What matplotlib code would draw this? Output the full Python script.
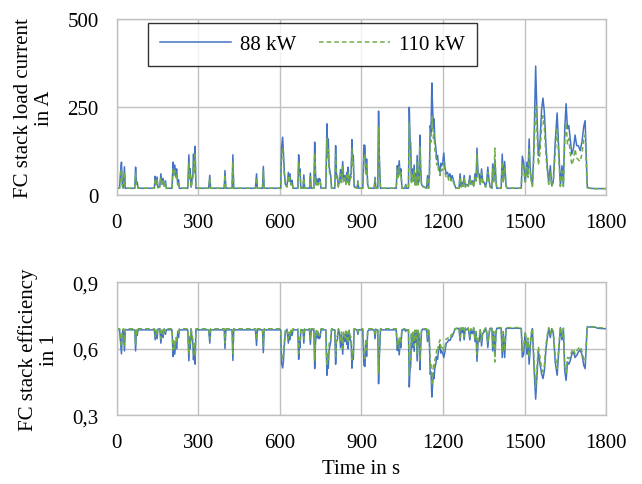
import matplotlib
matplotlib.use("Agg")
import matplotlib.pyplot as plt
from matplotlib.ticker import FuncFormatter, MultipleLocator
from typing import Tuple

plt.rcParams["font.family"] = ["Liberation Serif", "DejaVu Serif"]
plt.rcParams["font.size"] = 15

# values (time in s)
time_s = [
    0, 10, 13, 17, 20, 24, 26, 28, 31, 66, 69, 72, 75, 78, 138, 141, 144, 148,
    151, 158, 162, 166, 170, 174, 179, 182, 203, 207, 210, 213, 217, 220, 224,
    227, 230, 261, 265, 268, 270, 273, 280, 282, 285, 288, 291, 338, 342, 345,
    395, 398, 401, 424, 427, 430, 510, 514, 517, 536, 539, 542, 603, 606, 610,
    613, 616, 620, 626, 631, 634, 637, 641, 645, 648, 666, 669, 672, 674, 677,
    685, 688, 691, 709, 712, 715, 725, 728, 731, 734, 737, 740, 744, 748, 751,
    769, 773, 776, 778, 781, 787, 790, 802, 805, 808, 812, 815, 820, 823, 827,
    831, 835, 839, 843, 846, 849, 851, 855, 858, 862, 865, 868, 870, 873, 884,
    887, 890, 905, 909, 913, 916, 919, 923, 927, 947, 950, 953, 960, 963, 966,
    970, 1028, 1032, 1035, 1039, 1042, 1045, 1049, 1060, 1063, 1066, 1073,
    1076, 1079, 1081, 1084, 1087, 1090, 1094, 1097, 1099, 1102, 1105, 1108,
    1112, 1115, 1118, 1121, 1124, 1140, 1143, 1147, 1150, 1153, 1156, 1159,
    1162, 1165, 1167, 1170, 1174, 1177, 1180, 1184, 1189, 1192, 1195, 1199,
    1203, 1207, 1212, 1217, 1221, 1226, 1230, 1234, 1239, 1244, 1248, 1259,
    1263, 1267, 1271, 1274, 1278, 1282, 1287, 1293, 1299, 1303, 1308, 1313,
    1318, 1322, 1325, 1329, 1333, 1337, 1342, 1346, 1351, 1357, 1361, 1365,
    1369, 1373, 1380, 1383, 1387, 1391, 1395, 1398, 1414, 1418, 1422, 1427,
    1432, 1436, 1488, 1492, 1497, 1500, 1503, 1509, 1513, 1517, 1520, 1523,
    1526, 1529, 1533, 1536, 1541, 1546, 1551, 1557, 1563, 1568, 1573, 1579,
    1584, 1589, 1595, 1600, 1606, 1613, 1620, 1626, 1632, 1638, 1643, 1648,
    1653, 1658, 1663, 1668, 1674, 1680, 1686, 1692, 1698, 1705, 1712, 1718,
    1723, 1726, 1729, 1731, 1740, 1760, 1770, 1800,
]

current_88kw = [
    19, 19, 60, 93, 30, 19, 50, 80, 19, 19, 79, 30, 37, 19, 19, 53, 30, 51,
    22, 25, 60, 30, 47, 25, 40, 19, 19, 93, 60, 85, 55, 74, 30,
    43, 19, 19, 114, 50, 74, 22, 60, 116, 70, 138, 19, 19, 56, 19,
    19, 69, 19, 19, 114, 19, 19, 60, 19, 19, 81, 19, 19, 135, 164,
    121, 70, 30, 25, 64, 40, 60, 30, 41, 19, 19, 114, 60, 74, 19,
    19, 57, 19, 19, 62, 19, 19, 150, 60, 30, 45, 30, 47, 44, 19,
    19, 202, 120, 159, 80, 55, 19, 19, 140, 60, 50, 25, 40, 72, 40,
    95, 40, 55, 35, 64, 40, 79, 30, 50, 60, 157, 100, 112, 25, 19,
    40, 19, 19, 142, 140, 60, 102, 30, 19, 19, 50, 19, 19, 238, 102,
    19, 19, 83, 60, 97, 60, 74, 19, 19, 30, 19, 19,
    249, 150, 150, 40, 74, 40, 85, 30, 60, 30, 112, 30,
    40, 170, 74, 30, 26, 19, 55, 19, 60, 197, 180, 318,
    244, 190, 216, 159, 131, 100, 112, 80, 64, 90, 83, 90,
    119, 79, 60, 64, 50, 60, 45, 55, 40, 26, 19, 19,
    60, 25, 35, 25, 55, 25, 30, 25, 55, 30, 40, 25,
    60, 40, 133, 60, 60, 30, 74, 40, 35, 25, 40, 79,
    45, 25, 19, 88, 40, 100, 41, 19, 19, 116, 40, 95,
    26, 19, 19, 110, 93, 60, 41, 93, 60, 159, 90, 55,
    40, 26, 100, 188, 366, 225, 112, 150, 244, 275, 235, 140,
    79, 36, 83, 26, 41, 150, 233, 131, 26, 83, 26, 188,
    259, 188, 197, 159, 116, 131, 170, 140, 140, 126, 154, 195,
    211, 140, 60, 22, 19, 18, 18, 18,
]

current_110kw = [
    19, 19, 50, 75, 25, 19, 45, 65, 19, 19, 62, 28, 30, 19, 19, 45, 28, 42,
    20, 22, 50, 28, 38, 22, 35, 19, 19, 75, 55, 70, 50, 62, 28,
    38, 19, 19, 90, 45, 62, 20, 50, 95, 60, 115, 19, 19, 48, 19,
    19, 58, 19, 19, 95, 19, 19, 50, 19, 19, 68, 19, 19, 110, 135,
    100, 60, 28, 22, 55, 35, 50, 28, 35, 19, 19, 95, 50, 62, 19,
    19, 48, 19, 19, 52, 19, 19, 120, 50, 28, 40, 28, 40, 38, 19,
    19, 160, 100, 130, 70, 48, 19, 19, 115, 50, 44, 22, 35, 60, 35,
    80, 35, 48, 30, 55, 35, 66, 28, 44, 50, 130, 85, 95, 22, 19,
    35, 19, 19, 115, 115, 55, 85, 28, 19, 19, 44, 19, 19, 195, 85,
    19, 19, 70, 50, 80, 50, 62, 19, 19, 28, 19, 19,
    205, 125, 125, 35, 62, 35, 70, 28, 50, 28, 92, 28,
    35, 140, 62, 28, 24, 19, 48, 19, 50, 160, 150, 222,
    200, 160, 175, 130, 110, 85, 90, 68, 55, 72, 68, 75,
    95, 65, 50, 55, 42, 50, 40, 46, 35, 24, 19, 19,
    50, 22, 30, 22, 46, 22, 28, 22, 46, 28, 35, 22,
    50, 35, 115, 50, 50, 28, 62, 35, 30, 22, 35, 65,
    40, 22, 19, 75, 35, 133, 35, 19, 19, 95, 35, 80,
    24, 19, 19, 90, 78, 50, 36, 78, 50, 130, 75, 48,
    35, 24, 80, 150, 259, 180, 85, 120, 200, 225, 190, 110,
    65, 30, 65, 24, 35, 120, 190, 105, 24, 68, 24, 150,
    205, 145, 160, 120, 85, 100, 130, 105, 100, 95, 120, 160,
    170, 120, 50, 20, 19, 18, 18, 18,
]

eff_88kw = [
    0.685, 0.685, 0.640, 0.577, 0.670, 0.685, 0.640, 0.590, 0.685, 0.685,
    0.590, 0.680, 0.660, 0.685, 0.685, 0.640, 0.680, 0.645, 0.688, 0.690,
    0.625, 0.680, 0.650, 0.690, 0.665, 0.685, 0.685, 0.565, 0.615, 0.575,
    0.630, 0.600, 0.670, 0.650, 0.685, 0.685, 0.545, 0.640, 0.600, 0.688,
    0.620, 0.550, 0.610, 0.530, 0.685, 0.685, 0.625, 0.685, 0.685, 0.600,
    0.685, 0.685, 0.547, 0.685, 0.685, 0.615, 0.685, 0.685, 0.582, 0.685,
    0.685, 0.535, 0.513, 0.545, 0.610, 0.675, 0.688, 0.625, 0.665, 0.640,
    0.678, 0.660, 0.685, 0.685, 0.552, 0.630, 0.605, 0.685, 0.685, 0.625,
    0.685, 0.685, 0.620, 0.685, 0.685, 0.510, 0.630, 0.675, 0.648, 0.675,
    0.645, 0.650, 0.685, 0.685, 0.480, 0.548, 0.512, 0.595, 0.632, 0.685,
    0.685, 0.530, 0.630, 0.645, 0.688, 0.665, 0.605, 0.665, 0.575, 0.665,
    0.632, 0.672, 0.620, 0.665, 0.600, 0.678, 0.645, 0.630, 0.512, 0.565,
    0.552, 0.688, 0.685, 0.665, 0.685, 0.685, 0.525, 0.520, 0.630, 0.565,
    0.678, 0.685, 0.685, 0.645, 0.685, 0.685, 0.442, 0.565, 0.685, 0.685,
    0.592, 0.630, 0.572, 0.630, 0.605, 0.685, 0.685, 0.678, 0.685, 0.685,
    0.427, 0.515, 0.515, 0.665, 0.605, 0.665, 0.588, 0.678, 0.630, 0.678,
    0.545, 0.678, 0.665, 0.505, 0.605, 0.678, 0.688, 0.685, 0.632, 0.685,
    0.630, 0.485, 0.495, 0.382, 0.440, 0.490, 0.465, 0.512, 0.535, 0.565,
    0.552, 0.595, 0.620, 0.580, 0.590, 0.580, 0.560, 0.585, 0.625, 0.630,
    0.640, 0.637, 0.650, 0.655, 0.670, 0.688, 0.690, 0.692, 0.635, 0.692,
    0.675, 0.692, 0.640, 0.692, 0.685, 0.692, 0.640, 0.685, 0.668, 0.692,
    0.632, 0.668, 0.543, 0.632, 0.632, 0.685, 0.612, 0.668, 0.675, 0.692,
    0.668, 0.605, 0.660, 0.692, 0.692, 0.590, 0.668, 0.570, 0.668, 0.692,
    0.692, 0.560, 0.668, 0.560, 0.690, 0.692, 0.692, 0.562, 0.575, 0.632,
    0.668, 0.575, 0.632, 0.530, 0.585, 0.640, 0.668, 0.690, 0.570, 0.490,
    0.372, 0.480, 0.590, 0.530, 0.487, 0.465, 0.500, 0.600, 0.650, 0.690,
    0.650, 0.690, 0.668, 0.540, 0.480, 0.590, 0.695, 0.640, 0.690, 0.500,
    0.457, 0.540, 0.530, 0.545, 0.575, 0.585, 0.560, 0.570, 0.585, 0.595,
    0.570, 0.525, 0.510, 0.580, 0.660, 0.698, 0.698, 0.697, 0.692, 0.690,
]

eff_110kw = [
    0.690, 0.690, 0.655, 0.607, 0.680, 0.690, 0.660, 0.615, 0.690, 0.690,
    0.615, 0.685, 0.670, 0.690, 0.690, 0.655, 0.685, 0.660, 0.690, 0.692,
    0.645, 0.685, 0.665, 0.692, 0.675, 0.690, 0.690, 0.595, 0.635, 0.600,
    0.650, 0.625, 0.680, 0.665, 0.690, 0.690, 0.575, 0.655, 0.625, 0.690,
    0.640, 0.580, 0.630, 0.565, 0.690, 0.690, 0.645, 0.690, 0.690, 0.625,
    0.690, 0.690, 0.578, 0.690, 0.690, 0.640, 0.690, 0.690, 0.610, 0.690,
    0.690, 0.570, 0.550, 0.575, 0.630, 0.682, 0.690, 0.645, 0.675, 0.655,
    0.684, 0.672, 0.690, 0.690, 0.580, 0.650, 0.630, 0.690, 0.690, 0.645,
    0.690, 0.690, 0.640, 0.690, 0.690, 0.548, 0.650, 0.682, 0.662, 0.682,
    0.660, 0.663, 0.690, 0.690, 0.520, 0.578, 0.550, 0.620, 0.650, 0.690,
    0.690, 0.565, 0.650, 0.660, 0.690, 0.675, 0.630, 0.675, 0.600, 0.675,
    0.650, 0.680, 0.640, 0.675, 0.625, 0.684, 0.660, 0.650, 0.550, 0.595,
    0.580, 0.690, 0.690, 0.675, 0.690, 0.690, 0.560, 0.555, 0.645, 0.595,
    0.684, 0.690, 0.690, 0.660, 0.690, 0.690, 0.490, 0.595, 0.690, 0.690,
    0.615, 0.650, 0.600, 0.650, 0.630, 0.690, 0.690, 0.684, 0.690, 0.690,
    0.478, 0.550, 0.550, 0.675, 0.630, 0.675, 0.612, 0.684, 0.650, 0.684,
    0.578, 0.684, 0.675, 0.545, 0.630, 0.684, 0.690, 0.690, 0.650, 0.690,
    0.650, 0.525, 0.535, 0.432, 0.480, 0.525, 0.510, 0.550, 0.565, 0.595,
    0.585, 0.620, 0.640, 0.605, 0.615, 0.605, 0.590, 0.605, 0.645, 0.645,
    0.655, 0.650, 0.662, 0.665, 0.678, 0.690, 0.692, 0.695, 0.650, 0.695,
    0.682, 0.695, 0.655, 0.695, 0.690, 0.695, 0.655, 0.690, 0.678, 0.695,
    0.648, 0.678, 0.575, 0.648, 0.648, 0.690, 0.632, 0.678, 0.682, 0.695,
    0.678, 0.625, 0.670, 0.695, 0.695, 0.610, 0.678, 0.540, 0.678, 0.695,
    0.695, 0.585, 0.678, 0.590, 0.693, 0.695, 0.695, 0.588, 0.600, 0.648,
    0.678, 0.600, 0.648, 0.560, 0.610, 0.655, 0.678, 0.693, 0.595, 0.525,
    0.425, 0.515, 0.610, 0.560, 0.510, 0.495, 0.525, 0.620, 0.665, 0.695,
    0.665, 0.693, 0.678, 0.565, 0.510, 0.610, 0.698, 0.655, 0.693, 0.525,
    0.490, 0.560, 0.555, 0.565, 0.590, 0.600, 0.575, 0.590, 0.600, 0.610,
    0.585, 0.550, 0.540, 0.600, 0.670, 0.700, 0.700, 0.699, 0.695, 0.694,
]

series_labels = ["88 kW", "110 kW"]
x_ticks = [0, 300, 600, 900, 1200, 1500, 1800]

BLUE = "#4472C4"
GREEN = "#70AD47"
GRID = "#c0c0c0"


def make_figure() -> Tuple[plt.Figure, plt.Axes, plt.Axes]:
    fig = plt.figure(figsize=(6.42, 4.85), dpi=100)
    ax_top = fig.add_axes([0.182, 0.596, 0.762, 0.363])
    ax_bot = fig.add_axes([0.182, 0.142, 0.762, 0.274])
    return fig, ax_top, ax_bot


def style_axes(ax: plt.Axes) -> None:
    ax.set_xlim(0, 1800)
    ax.set_xticks(x_ticks)
    ax.grid(True, color=GRID, lw=1.0)
    ax.set_axisbelow(True)
    for spine in ax.spines.values():
        spine.set_color(GRID)
        spine.set_linewidth(1.0)
    ax.tick_params(axis="both", length=0, labelsize=15)
    ax.tick_params(axis="y", pad=13)
    ax.tick_params(axis="x", pad=13)


def add_lines(ax: plt.Axes, y88, y110) -> None:
    ax.plot(time_s, y88, color=BLUE, lw=1.1, label=series_labels[0])
    ax.plot(time_s, y110, color=GREEN, lw=1.1, ls=(0, (3, 2)),
            label=series_labels[1])


def entry_point() -> None:
    fig, ax_top, ax_bot = make_figure()

    style_axes(ax_top)
    add_lines(ax_top, current_88kw, current_110kw)
    ax_top.set_ylim(0, 500)
    ax_top.yaxis.set_major_locator(MultipleLocator(250))
    ax_top.set_ylabel("FC stack load current\nin A", fontsize=15,
                      linespacing=1.1, labelpad=10)
    leg = ax_top.legend(loc="upper center", bbox_to_anchor=(0.40, 0.975),
                        borderaxespad=0, ncol=2, fontsize=15, frameon=True,
                        fancybox=False, handlelength=3.4, handletextpad=0.45,
                        columnspacing=1.1, borderpad=0.55,
                        edgecolor="black")
    leg.get_frame().set_linewidth(1.0)

    style_axes(ax_bot)
    add_lines(ax_bot, eff_88kw, eff_110kw)
    ax_bot.set_ylim(0.3, 0.9)
    ax_bot.set_yticks([0.3, 0.6, 0.9])
    ax_bot.yaxis.set_major_formatter(
        FuncFormatter(lambda v, p: f"{v:.1f}".replace(".", ",")))
    ax_bot.set_ylabel("FC stack efficiency\nin 1", fontsize=15,
                      linespacing=1.1, labelpad=10)
    ax_bot.set_xlabel("Time in s", fontsize=15, labelpad=5)

    fig.savefig("out.png", dpi=100)


if __name__ == "__main__":
    entry_point()
